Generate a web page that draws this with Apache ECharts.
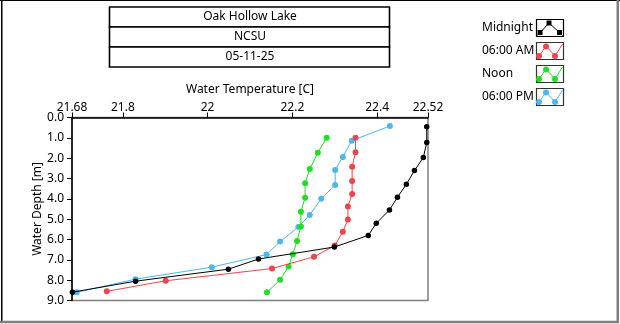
<!DOCTYPE html>
<html>
<head>
<meta charset="utf-8">
<script src="https://cdn.jsdelivr.net/npm/echarts@6/dist/echarts.min.js"></script>
<style>
html,body{margin:0;padding:0;background:#fff;}
#chart{width:620px;height:324px;}
</style>
</head>
<body>
<div id="chart"></div>
<script>
// ---- data ----
var titleLines = ['Oak Hollow Lake', 'NCSU', '05-11-25'];
var seriesNames = ['Midnight', '06:00 AM', 'Noon', '06:00 PM'];
var seriesColors = ['#000000', '#E8474C', '#22DD22', '#4FB6EE'];
var xTicks = [21.68, 21.8, 22, 22.2, 22.4, 22.52];

var midnightTemp  = [22.517, 22.517, 22.509, 22.488, 22.469, 22.448, 22.429, 22.398, 22.379, 22.299, 22.12, 22.049, 21.83, 21.681];
var midnightDepth = [0.45, 1.23, 1.97, 2.61, 3.28, 3.92, 4.55, 5.2, 5.8, 6.37, 6.96, 7.46, 8.05, 8.59];

var amTemp  = [22.349, 22.349, 22.341, 22.341, 22.341, 22.331, 22.331, 22.319, 22.3, 22.251, 22.152, 21.901, 21.762];
var amDepth = [0.99, 1.71, 2.42, 3.12, 3.76, 4.38, 5.02, 5.62, 6.3, 6.85, 7.43, 8.03, 8.55];

var noonTemp  = [22.281, 22.26, 22.241, 22.23, 22.23, 22.22, 22.22, 22.211, 22.201, 22.191, 22.171, 22.14];
var noonDepth = [0.99, 1.73, 2.53, 3.23, 3.95, 4.64, 5.36, 6.07, 6.72, 7.33, 7.98, 8.6];

var pmTemp  = [22.43, 22.34, 22.319, 22.301, 22.301, 22.268, 22.241, 22.214, 22.171, 22.139, 22.01, 21.83, 21.691];
var pmDepth = [0.42, 1.14, 1.94, 2.58, 3.32, 4.0, 4.79, 5.39, 6.1, 6.74, 7.36, 7.95, 8.6];

function zip(t, d) { return t.map(function (v, i) { return [v, d[i]]; }); }
var seriesData = [zip(midnightTemp, midnightDepth), zip(amTemp, amDepth), zip(noonTemp, noonDepth), zip(pmTemp, pmDepth)];

var FONT = 'Noto Sans';
var chart = echarts.init(document.getElementById('chart'), null, {renderer: 'canvas'});

// ---- decorations (title boxes, legend, frame) ----
var graphics = [];
// outer frame
graphics.push({type: 'rect', shape: {x: 0, y: 0, width: 620, height: 1}, style: {fill: '#000'}, silent: true});
graphics.push({type: 'rect', shape: {x: 1, y: 0, width: 1.5, height: 321}, style: {fill: '#000'}, silent: true});
graphics.push({type: 'rect', shape: {x: 616.5, y: 0, width: 2.5, height: 323}, style: {fill: '#7f7f7f'}, silent: true});
graphics.push({type: 'rect', shape: {x: 0, y: 320.8, width: 619, height: 2.5}, style: {fill: '#7f7f7f'}, silent: true});
// title boxes
titleLines.forEach(function (t, i) {
  var y = 7 + i * 20;
  graphics.push({type: 'rect', shape: {x: 109.5, y: y, width: 280, height: 20},
    style: {fill: '#fff', stroke: '#000', lineWidth: 1.6}, silent: true});
  graphics.push({type: 'text', x: 250, y: y + 10,
    style: {text: t, font: '12px "' + FONT + '"', fill: '#000', align: 'center', verticalAlign: 'middle'}, silent: true});
});
// legend
seriesNames.forEach(function (n, i) {
  var cy = 28 + i * 23;
  graphics.push({type: 'text', x: 482, y: cy,
    style: {text: n, font: '12px "' + FONT + '"', fill: '#000', align: 'left', verticalAlign: 'middle'}, silent: true});
  var bx = 536.5, by = cy - 8.5, bw = 27, bh = 17;
  graphics.push({type: 'rect', shape: {x: bx, y: by, width: bw, height: bh},
    style: {fill: '#fff', stroke: i === 0 ? '#000' : '#333', lineWidth: 1.2}, silent: true});
  var pts, mk;
  if (i === 0) {
    pts = [[bx + 1, by + bh - 1], [bx + 12.5, by + 3.5], [bx + 23, by + 13], [bx + 26, by + bh - 1]];
    mk = [[bx + 3.5, by + 13], [bx + 12.5, by + 3.5], [bx + 23, by + 13]];
  } else {
    pts = [[bx + 1, by + bh - 1], [bx + 9.5, by + 3.5], [bx + 18.5, by + 13.5], [bx + 26, by + 1.5]];
    mk = [[bx + 2.5, by + 13.5], [bx + 9.5, by + 4], [bx + 18.5, by + 13.5]];
  }
  graphics.push({type: 'polyline', shape: {points: pts},
    style: {stroke: seriesColors[i], lineWidth: 1, fill: null}, silent: true});
  mk.forEach(function (p) {
    if (i === 0) {
      graphics.push({type: 'rect', shape: {x: p[0] - 2.5, y: p[1] - 2.5, width: 5, height: 5},
        style: {fill: seriesColors[i]}, silent: true});
    } else {
      graphics.push({type: 'circle', shape: {cx: p[0], cy: p[1], r: 3},
        style: {fill: seriesColors[i]}, silent: true});
    }
  });
});

var option = {
  animation: false,
  backgroundColor: '#fff',
  textStyle: {fontFamily: FONT},
  grid: {left: 72, top: 117.5, right: 192, bottom: 23.5, show: true, borderColor: '#808080', borderWidth: 1.5, backgroundColor: '#fff'},
  xAxis: {
    type: 'value', position: 'top', min: 21.68, max: 22.52,
    name: 'Water Temperature [C]', nameLocation: 'middle', nameGap: 22, nameMoveOverlap: false,
    nameTextStyle: {fontSize: 12, color: '#000', fontFamily: FONT},
    axisLine: {show: true, lineStyle: {color: '#000', width: 1.5}},
    axisTick: {show: true, length: 5, lineStyle: {color: '#000'}, customValues: xTicks},
    axisLabel: {color: '#000', fontSize: 12, fontFamily: FONT, margin: 4, customValues: xTicks,
      formatter: function (v) { return String(+v.toFixed(2)); }},
    splitLine: {show: false}
  },
  yAxis: {
    type: 'value', inverse: true, min: 0, max: 9, interval: 1,
    name: 'Water Depth [m]', nameLocation: 'middle', nameGap: 28, nameRotate: 90, nameMoveOverlap: false,
    nameTextStyle: {fontSize: 12, color: '#000', fontFamily: FONT},
    axisLine: {show: true, lineStyle: {color: '#000', width: 1.5}},
    axisTick: {show: true, length: 5, lineStyle: {color: '#000'}},
    axisLabel: {color: '#000', fontSize: 12, fontFamily: FONT, margin: 8,
      formatter: function (v) { return v.toFixed(1); }},
    splitLine: {show: false}
  },
  series: seriesNames.map(function (n, i) {
    return {
      name: n, type: 'line', data: seriesData[i],
      symbol: 'circle', symbolSize: i === 0 ? 5.5 : 6, showSymbol: true,
      itemStyle: {color: seriesColors[i]},
      lineStyle: {color: seriesColors[i], width: 1},
      z: 10 - i
    };
  }),
  graphic: graphics
};
chart.setOption(option);
</script>
</body>
</html>
